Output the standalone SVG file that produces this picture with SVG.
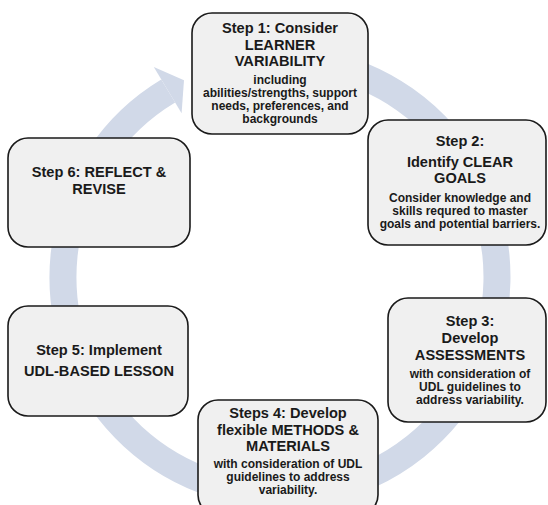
<svg xmlns="http://www.w3.org/2000/svg" width="548" height="505" viewBox="0 0 548 505">
  <style>
    .box { fill: #f0f0f0; stroke: #1a1a1a; stroke-width: 1.6; }
    .ring { fill: none; stroke: #d1d9e8; stroke-width: 27; }
    .head { fill: #d1d9e8; }
    text { font-family: "Liberation Sans", Arial, sans-serif; font-weight: bold; fill: #1a1a1a; text-anchor: middle; }
    .t { font-size: 14.6px; }
    .s { font-size: 12px; }
  </style>
  <rect width="548" height="505" fill="#ffffff"/>

  <!-- cycle ring: clockwise arc ending in an arrowhead pointing into step 1 -->
  <g id="connectors">
    <path class="ring" d="M 317.7 63.3 A 217 217 0 1 1 168.2 91.0"/>
    <polygon class="head" points="153.8,67.0 184.0,80.2 181.6,113.3"/>
  </g>

  <g id="step1">
    <rect class="box" x="192" y="13" width="176" height="121" rx="20"/>
    <text class="t" x="280" y="33">Step 1: Consider</text>
    <text class="t" x="280" y="49.5">LEARNER</text>
    <text class="t" x="280" y="66">VARIABILITY</text>
    <text class="s" x="280" y="84">including</text>
    <text class="s" x="280" y="97">abilities/strengths, support</text>
    <text class="s" x="280" y="110">needs, preferences, and</text>
    <text class="s" x="280" y="123">backgrounds</text>
  </g>

  <g id="step2">
    <rect class="box" x="368" y="120" width="178" height="125" rx="20"/>
    <text class="t" x="460" y="146">Step 2:</text>
    <text class="t" x="460" y="166.5">Identify CLEAR</text>
    <text class="t" x="460" y="183">GOALS</text>
    <text class="s" x="460" y="202">Consider knowledge and</text>
    <text class="s" x="460" y="215">skills requred to master</text>
    <text class="s" x="460" y="228">goals and potential barriers.</text>
  </g>

  <g id="step3">
    <rect class="box" x="388" y="298" width="158" height="124" rx="20"/>
    <text class="t" x="470" y="326">Step 3:</text>
    <text class="t" x="470" y="343">Develop</text>
    <text class="t" x="470" y="360">ASSESSMENTS</text>
    <text class="s" x="470" y="378">with consideration of</text>
    <text class="s" x="470" y="391">UDL guidelines to</text>
    <text class="s" x="470" y="404">address variability.</text>
  </g>

  <g id="step4">
    <rect class="box" x="198" y="400" width="180" height="115" rx="20"/>
    <text class="t" x="288" y="418">Steps 4: Develop</text>
    <text class="t" x="288" y="434.5">flexible METHODS &amp;</text>
    <text class="t" x="288" y="451">MATERIALS</text>
    <text class="s" x="288" y="468">with consideration of UDL</text>
    <text class="s" x="288" y="481">guidelines to address</text>
    <text class="s" x="288" y="494">variability.</text>
  </g>

  <g id="step5">
    <rect class="box" x="8" y="306" width="180" height="110" rx="20"/>
    <text class="t" x="99" y="355">Step 5: Implement</text>
    <text class="t" x="99" y="376">UDL-BASED LESSON</text>
  </g>

  <g id="step6">
    <rect class="box" x="8" y="138" width="182" height="109" rx="20"/>
    <text class="t" x="99" y="177">Step 6: REFLECT &amp;</text>
    <text class="t" x="99" y="193.5">REVISE</text>
  </g>
</svg>
